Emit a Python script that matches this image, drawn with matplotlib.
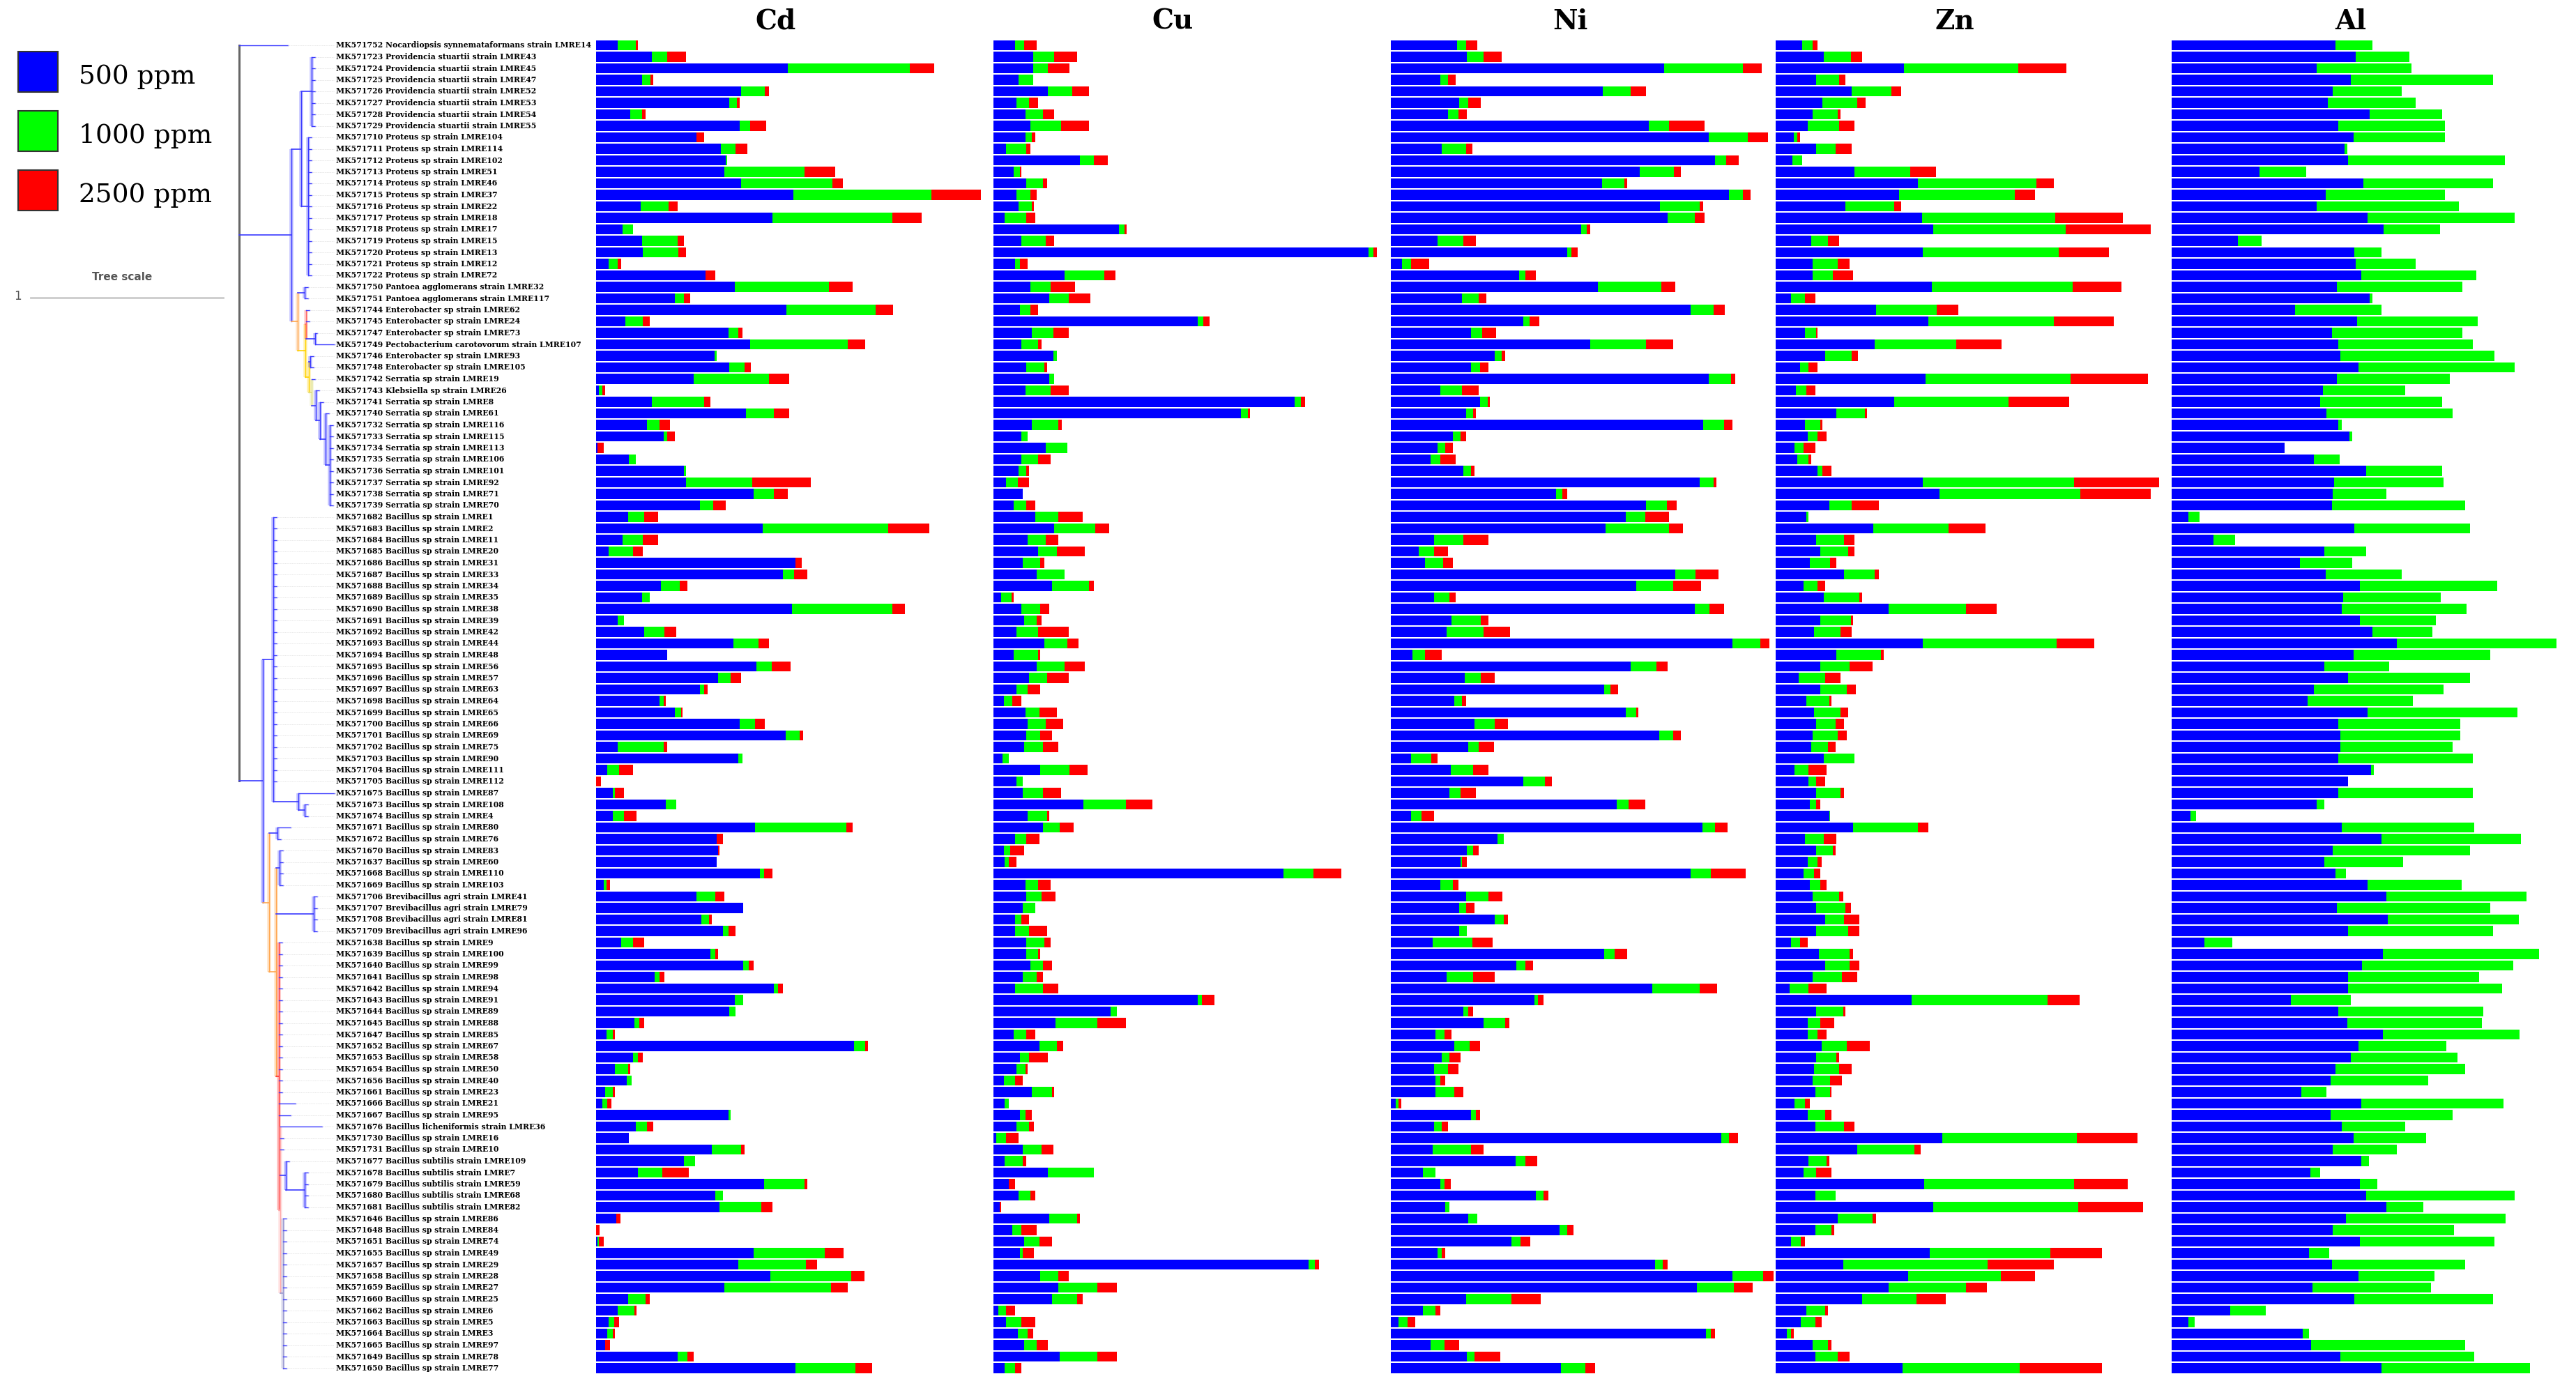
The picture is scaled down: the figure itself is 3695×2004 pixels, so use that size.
import matplotlib
matplotlib.use("Agg")
import matplotlib.pyplot as plt
from matplotlib.patches import Rectangle
import numpy as np

# strain labels, top to bottom
strains = [
    "MK571752 Nocardiopsis synnemataformans strain LMRE14",
    "MK571723 Providencia stuartii strain LMRE43",
    "MK571724 Providencia stuartii strain LMRE45",
    "MK571725 Providencia stuartii strain LMRE47",
    "MK571726 Providencia stuartii strain LMRE52",
    "MK571727 Providencia stuartii strain LMRE53",
    "MK571728 Providencia stuartii strain LMRE54",
    "MK571729 Providencia stuartii strain LMRE55",
    "MK571710 Proteus sp strain LMRE104",
    "MK571711 Proteus sp strain LMRE114",
    "MK571712 Proteus sp strain LMRE102",
    "MK571713 Proteus sp strain LMRE51",
    "MK571714 Proteus sp strain LMRE46",
    "MK571715 Proteus sp strain LMRE37",
    "MK571716 Proteus sp strain LMRE22",
    "MK571717 Proteus sp strain LMRE18",
    "MK571718 Proteus sp strain LMRE17",
    "MK571719 Proteus sp strain LMRE15",
    "MK571720 Proteus sp strain LMRE13",
    "MK571721 Proteus sp strain LMRE12",
    "MK571722 Proteus sp strain LMRE72",
    "MK571750 Pantoea agglomerans strain LMRE32",
    "MK571751 Pantoea agglomerans strain LMRE117",
    "MK571744 Enterobacter sp strain LMRE62",
    "MK571745 Enterobacter sp strain LMRE24",
    "MK571747 Enterobacter sp strain LMRE73",
    "MK571749 Pectobacterium carotovorum strain LMRE107",
    "MK571746 Enterobacter sp strain LMRE93",
    "MK571748 Enterobacter sp strain LMRE105",
    "MK571742 Serratia sp strain LMRE19",
    "MK571743 Klebsiella sp strain LMRE26",
    "MK571741 Serratia sp strain LMRE8",
    "MK571740 Serratia sp strain LMRE61",
    "MK571732 Serratia sp strain LMRE116",
    "MK571733 Serratia sp strain LMRE115",
    "MK571734 Serratia sp strain LMRE113",
    "MK571735 Serratia sp strain LMRE106",
    "MK571736 Serratia sp strain LMRE101",
    "MK571737 Serratia sp strain LMRE92",
    "MK571738 Serratia sp strain LMRE71",
    "MK571739 Serratia sp strain LMRE70",
    "MK571682 Bacillus sp strain LMRE1",
    "MK571683 Bacillus sp strain LMRE2",
    "MK571684 Bacillus sp strain LMRE11",
    "MK571685 Bacillus sp strain LMRE20",
    "MK571686 Bacillus sp strain LMRE31",
    "MK571687 Bacillus sp strain LMRE33",
    "MK571688 Bacillus sp strain LMRE34",
    "MK571689 Bacillus sp strain LMRE35",
    "MK571690 Bacillus sp strain LMRE38",
    "MK571691 Bacillus sp strain LMRE39",
    "MK571692 Bacillus sp strain LMRE42",
    "MK571693 Bacillus sp strain LMRE44",
    "MK571694 Bacillus sp strain LMRE48",
    "MK571695 Bacillus sp strain LMRE56",
    "MK571696 Bacillus sp strain LMRE57",
    "MK571697 Bacillus sp strain LMRE63",
    "MK571698 Bacillus sp strain LMRE64",
    "MK571699 Bacillus sp strain LMRE65",
    "MK571700 Bacillus sp strain LMRE66",
    "MK571701 Bacillus sp strain LMRE69",
    "MK571702 Bacillus sp strain LMRE75",
    "MK571703 Bacillus sp strain LMRE90",
    "MK571704 Bacillus sp strain LMRE111",
    "MK571705 Bacillus sp strain LMRE112",
    "MK571675 Bacillus sp strain LMRE87",
    "MK571673 Bacillus sp strain LMRE108",
    "MK571674 Bacillus sp strain LMRE4",
    "MK571671 Bacillus sp strain LMRE80",
    "MK571672 Bacillus sp strain LMRE76",
    "MK571670 Bacillus sp strain LMRE83",
    "MK571637 Bacillus sp strain LMRE60",
    "MK571668 Bacillus sp strain LMRE110",
    "MK571669 Bacillus sp strain LMRE103",
    "MK571706 Brevibacillus agri strain LMRE41",
    "MK571707 Brevibacillus agri strain LMRE79",
    "MK571708 Brevibacillus agri strain LMRE81",
    "MK571709 Brevibacillus agri strain LMRE96",
    "MK571638 Bacillus sp strain LMRE9",
    "MK571639 Bacillus sp strain LMRE100",
    "MK571640 Bacillus sp strain LMRE99",
    "MK571641 Bacillus sp strain LMRE98",
    "MK571642 Bacillus sp strain LMRE94",
    "MK571643 Bacillus sp strain LMRE91",
    "MK571644 Bacillus sp strain LMRE89",
    "MK571645 Bacillus sp strain LMRE88",
    "MK571647 Bacillus sp strain LMRE85",
    "MK571652 Bacillus sp strain LMRE67",
    "MK571653 Bacillus sp strain LMRE58",
    "MK571654 Bacillus sp strain LMRE50",
    "MK571656 Bacillus sp strain LMRE40",
    "MK571661 Bacillus sp strain LMRE23",
    "MK571666 Bacillus sp strain LMRE21",
    "MK571667 Bacillus sp strain LMRE95",
    "MK571676 Bacillus licheniformis strain LMRE36",
    "MK571730 Bacillus sp strain LMRE16",
    "MK571731 Bacillus sp strain LMRE10",
    "MK571677 Bacillus subtilis strain LMRE109",
    "MK571678 Bacillus subtilis strain LMRE7",
    "MK571679 Bacillus subtilis strain LMRE59",
    "MK571680 Bacillus subtilis strain LMRE68",
    "MK571681 Bacillus subtilis strain LMRE82",
    "MK571646 Bacillus sp strain LMRE86",
    "MK571648 Bacillus sp strain LMRE84",
    "MK571651 Bacillus sp strain LMRE74",
    "MK571655 Bacillus sp strain LMRE49",
    "MK571657 Bacillus sp strain LMRE29",
    "MK571658 Bacillus sp strain LMRE28",
    "MK571659 Bacillus sp strain LMRE27",
    "MK571660 Bacillus sp strain LMRE25",
    "MK571662 Bacillus sp strain LMRE6",
    "MK571663 Bacillus sp strain LMRE5",
    "MK571664 Bacillus sp strain LMRE3",
    "MK571665 Bacillus sp strain LMRE97",
    "MK571649 Bacillus sp strain LMRE78",
    "MK571650 Bacillus sp strain LMRE77",
]

# growth at 500 / 1000 / 2500 ppm (bar segment lengths, same row order)
cd_500 = [17,44,151,36,114,105,27,113,79,98, 102,101,114,155,35,139,21,36,37,10,
          86,109,62,150,23,104,121,93,105,77, 2,44,118,40,53,1,26,69,71,124,
          82,25,131,21,10,157,147,51,36,154, 17,38,108,56,126,96,82,50,62,113,
          149,17,112,9,0,13,55,13,125,95, 96,95,129,6,79,116,83,100,20,90,
          116,46,140,109,105,30,8,203,29,15, 24,7,5,104,31,26,91,69,33,132,
          94,97,16,0,1,124,112,137,101,25, 17,10,9,7,64,157]
cd_1000 = [14,12,96,7,19,6,9,8,0,12, 1,63,72,109,22,94,8,28,28,7,
           0,74,7,70,14,8,77,2,12,59, 3,41,22,10,3,0,5,2,52,16,
           10,13,99,16,19,0,9,15,6,79, 5,16,20,0,12,10,3,3,5,12,
           11,36,3,9,0,2,8,9,72,0, 0,0,3,2,15,0,6,4,9,4,
           4,4,3,7,5,4,5,9,4,10, 4,6,4,2,9,0,23,9,19,32,
           6,33,0,0,1,56,53,64,84,14, 13,4,4,0,8,47]
cd_2500 = [2,15,19,2,3,2,3,13,6,9, 0,24,8,39,7,23,0,5,6,3,
           8,19,5,14,5,3,14,0,5,16, 2,5,12,8,6,5,0,0,46,11,
           10,11,32,12,8,5,10,6,0,10, 0,9,8,0,15,8,3,2,1,8,
           3,3,0,11,4,7,0,10,5,5, 1,0,7,3,7,0,2,6,9,2,
           4,4,4,0,0,4,2,2,4,2, 0,2,3,0,5,0,3,0,21,2,
           0,9,3,3,4,15,9,10,13,3, 2,4,2,4,5,13]

cu_500 = [17,31,31,20,43,18,25,29,25,10, 68,16,26,18,20,9,99,22,295,17,
          56,29,44,21,161,30,22,47,26,44, 25,237,195,30,22,41,22,20,10,23,
          16,33,48,27,35,23,34,46,6,22, 24,18,40,16,34,28,18,8,25,27,
          26,24,7,37,18,23,71,27,39,17, 8,9,228,25,26,23,17,17,26,26,
          29,23,17,161,92,49,16,36,21,18, 8,30,9,21,18,2,23,9,43,12,
          20,5,44,15,24,21,248,37,51,46, 4,10,19,24,52,9]
cu_1000 = [7,17,12,11,19,10,14,24,5,16, 11,5,13,11,10,17,4,19,4,4,
           31,16,15,8,4,17,13,3,14,4, 20,5,5,21,5,17,13,6,9,0,
           10,18,32,14,15,14,22,29,8,15, 10,17,18,19,22,14,9,7,11,14,
           11,15,5,23,5,16,33,15,13,9, 5,3,24,10,12,10,5,11,14,9,
           10,11,22,3,5,33,10,14,7,7, 9,16,3,4,10,8,15,14,36,0,
           9,0,22,7,12,2,5,14,31,20, 6,12,8,10,30,8]
cu_2500 = [10,18,17,0,13,7,9,22,3,3, 11,1,3,5,2,7,2,7,3,6,
           9,19,17,6,5,12,3,0,2,0, 14,3,2,3,0,0,10,2,9,0,
           7,19,11,10,22,3,0,4,2,7, 4,24,9,2,16,17,10,7,14,14,
           9,12,0,14,0,14,21,2,11,10, 11,6,22,10,11,0,6,14,5,2,
           7,5,12,10,0,22,7,5,15,2, 6,2,0,5,4,10,9,3,0,5,
           4,1,2,12,10,9,3,8,15,4, 7,11,4,9,15,5]

ni_500 = [52,60,215,39,167,54,45,203,250,40, 255,196,166,266,212,218,150,37,139,9,
          101,163,56,236,104,63,157,82,63,250, 39,70,59,246,49,37,31,57,243,130,
          201,185,169,34,22,27,224,193,34,239, 48,44,269,17,189,58,168,50,185,66,
          211,61,16,47,104,46,178,16,245,84, 60,55,236,39,59,54,82,54,33,168,
          99,44,206,113,57,73,35,50,40,34, 35,35,4,63,34,260,33,98,25,39,
          114,43,61,133,95,37,208,269,241,59, 25,6,248,31,60,134]
ni_1000 = [7,13,62,6,22,7,8,16,31,19, 9,27,18,11,31,21,4,20,3,7,
           5,50,13,18,5,9,44,5,7,18, 17,6,6,16,6,6,8,6,11,5,
           16,15,50,23,12,14,16,29,12,12, 23,29,22,10,20,13,5,6,8,16,
           11,8,16,18,17,9,9,8,10,5, 5,1,16,10,18,5,7,6,31,8,
           7,21,37,3,4,17,7,12,6,11, 4,15,2,4,6,6,30,8,10,3,
           6,3,7,6,7,3,6,24,29,36, 10,7,4,11,6,19]
ni_2500 = [9,14,15,6,12,10,7,28,16,5, 10,5,2,6,3,8,3,10,5,14,
           8,11,6,9,8,11,21,3,7,3, 13,2,2,7,4,6,12,3,2,4,
           8,19,11,20,11,8,18,22,5,11, 6,21,7,13,9,11,6,3,2,10,
           6,12,5,12,6,12,13,10,10,0, 4,4,27,4,11,7,3,0,16,10,
           6,17,14,4,4,3,6,8,9,8, 4,7,2,3,5,7,10,9,0,5,
           4,0,0,5,8,3,4,8,15,23, 4,6,3,12,20,8]

zn_500 = [21,38,101,32,60,37,29,25,14,32, 13,62,112,97,55,115,124,28,116,29,
          29,123,12,79,120,23,78,39,19,118, 16,93,48,23,25,15,17,33,116,129,
          42,24,77,32,35,27,54,22,38,89, 35,30,116,48,35,18,35,24,30,32,
          29,28,38,15,26,32,27,42,61,23, 32,25,22,27,29,32,39,32,12,34,
          39,29,11,107,32,25,25,36,32,30, 29,31,15,25,31,131,64,26,22,117,
          31,124,49,31,12,121,53,104,89,68, 24,20,9,29,31,100]
zn_1000 = [8,21,90,18,31,27,20,25,3,15, 8,44,93,91,38,105,104,13,107,20,
           16,111,11,48,99,9,64,21,7,114, 8,90,22,12,8,7,9,4,119,111,
           18,2,59,22,22,16,24,11,28,61, 24,21,105,35,23,21,21,18,21,15,
           20,13,24,11,6,19,5,1,51,15, 13,8,8,8,21,23,15,25,7,24,
           19,23,15,107,21,10,8,20,16,20, 14,12,8,14,23,106,45,14,10,118,
           16,114,27,13,8,95,114,73,61,43, 15,11,3,12,18,92]
zn_2500 = [4,9,38,5,8,7,2,12,2,13, 0,20,14,16,6,53,67,9,39,9,
           16,38,8,17,47,1,36,5,7,61, 7,48,2,2,7,9,2,7,67,55,
           21,0,29,8,5,5,3,6,2,24, 2,9,30,2,18,12,7,2,6,7,
           7,6,0,14,7,3,3,0,8,10, 2,3,5,5,3,4,12,9,6,3,
           8,12,14,25,2,11,7,18,2,10, 9,1,4,5,8,48,5,2,12,42,
           0,51,3,2,3,41,52,27,16,23, 2,5,2,3,9,65]

al_500 = [129,145,114,141,127,123,156,131,143,136, 139,69,151,121,114,154,167,52,144,145,
          149,130,156,97,146,126,131,133,147,130, 119,117,122,131,140,89,112,153,128,127,
          126,13,144,33,120,101,121,148,135,134, 148,158,177,143,120,139,112,107,154,131,
          133,133,131,157,139,131,114,15,134,165, 127,120,129,154,169,130,170,139,26,166,
          150,139,139,94,131,138,166,147,141,129, 125,102,149,125,134,143,127,149,109,148,
          153,169,137,127,148,108,126,147,111,144, 46,13,103,110,133,165]
al_1000 = [29,42,75,112,54,69,57,84,72,2, 123,37,102,94,112,116,44,19,21,47,
           91,99,2,68,95,103,106,121,123,89, 65,96,99,3,2,0,20,60,86,42,
           105,9,91,17,33,41,60,108,77,98, 60,47,126,108,51,96,102,83,118,96,
           94,88,106,2,0,106,6,4,104,110, 108,62,8,74,110,121,103,114,22,123,
           119,103,121,47,114,106,108,69,84,102, 77,20,112,96,50,57,50,6,8,14,
           117,29,126,95,106,16,105,60,93,109, 28,5,5,121,105,117]
# no 2500 ppm growth on Al

metals = ["Cd", "Cu", "Ni", "Zn", "Al"]
growth = {
    "Cd": (cd_500, cd_1000, cd_2500),
    "Cu": (cu_500, cu_1000, cu_2500),
    "Ni": (ni_500, ni_1000, ni_2500),
    "Zn": (zn_500, zn_1000, zn_2500),
    "Al": (al_500, al_1000, None),
}
conc_labels = ["500 ppm", "1000 ppm", "2500 ppm"]
conc_colors = ["#0000ff", "#00ff00", "#ff0000"]

# tree: (node, parent, depth, colour, leaves attached directly (1-based rows))
BLUE, ORANGE, YELLOW = "#3a3aff", "#ffa64d", "#ffd200"
tree = [
    ("root", None, 0.000, "#666666", [1]),
    ("gneg", "root", 0.272, BLUE, []),
    ("provprot", "gneg", 0.322, BLUE, []),
    ("prov", "provprot", 0.377, BLUE, list(range(2, 9))),
    ("prot", "provprot", 0.359, BLUE, list(range(9, 22))),
    ("ent", "gneg", 0.304, ORANGE, []),
    ("pant", "ent", 0.341, BLUE, [22, 23]),
    ("entB", "ent", 0.344, YELLOW, []),
    ("entC", "entB", 0.348, "#ff6666", [24, 25]),
    ("pecto", "entC", 0.395, BLUE, [26, 27]),
    ("entD", "entB", 0.362, YELLOW, []),
    ("ent93", "entD", 0.368, BLUE, [28, 29]),
    ("serA", "entD", 0.377, "#dede80", [30]),
    ("serB", "serA", 0.399, BLUE, [31]),
    ("serC", "serB", 0.420, BLUE, [32]),
    ("serD", "serC", 0.449, BLUE, [33]),
    ("serE", "serD", 0.471, BLUE, list(range(34, 42))),
    ("gpos", "root", 0.123, BLUE, []),
    ("bac1", "gpos", 0.178, BLUE, list(range(42, 66))),
    ("bac87", "bac1", 0.308, BLUE, [66]),
    ("bac108", "bac87", 0.341, BLUE, [67, 68]),
    ("gposB", "gpos", 0.156, ORANGE, []),
    ("bac80", "gposB", 0.199, BLUE, [69, 70]),
    ("gposC", "gposB", 0.192, ORANGE, []),
    ("bac83", "gposC", 0.210, BLUE, [71, 72, 73, 74]),
    ("brevi", "gposC", 0.388, BLUE, [75, 76, 77, 78]),
    ("bacred", "gposC", 0.207, "#ff3333", list(range(79, 95))),
    ("bacpink", "bacred", 0.214, "#ffaaaa", [95, 96, 97]),
    ("subA", "bacpink", 0.243, BLUE, [98]),
    ("subB", "subA", 0.341, BLUE, [99, 100, 101, 102]),
    ("bacgray", "bacpink", 0.228, "#9a9ad0", list(range(103, 117))),
]
long_tips = {1: 0.254, 26: 0.405, 27: 0.496, 66: 0.496, 69: 0.268,
             93: 0.293, 94: 0.268, 95: 0.431}

W, H = 3695, 2004
fig = plt.figure(figsize=(W / 100, H / 100), dpi=100)
n = len(strains)
row_top, row_bot = 56.75, 1970.75
ax_b = 1 - row_bot / H
ax_h = (row_bot - row_top) / H

# ---- tree + labels ----
tax = fig.add_axes([330 / W, ax_b, 530 / W, ax_h])
tax.set_xlim(-13 / 276, 517 / 276)
tax.set_ylim(n - 0.5, -0.5)
tax.axis("off")

info = {name: (parent, depth, col, leaves) for name, parent, depth, col, leaves in tree}
children = {name: [] for name in info}
for name, (parent, _, _, _) in info.items():
    if parent:
        children[parent].append(name)

node_y = {}
def place(name):
    ys = [r - 1 for r in info[name][3]] + [place(c) for c in children[name]]
    node_y[name] = (min(ys) + max(ys)) / 2
    return node_y[name]
place("root")

label_x = 0.504
for name, (parent, depth, col, leaves) in info.items():
    ys = [r - 1 for r in leaves] + [node_y[c] for c in children[name]]
    lw_v = 2.2 if name == "root" else 1.0
    if name != "root":
        tax.plot([depth, depth], [min(ys), max(ys)], color=col, lw=4, alpha=0.3,
                 solid_capstyle="butt")
    tax.plot([depth, depth], [min(ys), max(ys)], color=col, lw=lw_v)
    if parent:
        pdepth = info[parent][1]
        tax.plot([pdepth, depth], [node_y[name]] * 2, color=col, lw=1.2)
    for r in leaves:
        tip = long_tips.get(r, depth + 0.018)
        tax.plot([depth, tip], [r - 1] * 2, color=BLUE, lw=1.0)
        tax.plot([tip, label_x - 0.01], [r - 1] * 2, color="#dddddd", lw=0.6,
                 ls=(0, (1, 1)))

for i, s in enumerate(strains):
    tax.text(label_x, i, s, fontsize=7.8, family="DejaVu Serif", weight="bold",
             va="center", ha="left")

# ---- stacked bar panels ----
panel_left = [855, 1425, 1995, 2547, 3115]
panel_w = 565
ypos = np.arange(n)
for metal, left in zip(metals, panel_left):
    ax = fig.add_axes([left / W, ax_b, panel_w / W, ax_h])
    base = np.zeros(n)
    for vals, col in zip(growth[metal], conc_colors):
        if vals is None:
            continue
        ax.barh(ypos, vals, left=base, height=0.88, color=col, edgecolor="none")
        base = base + np.array(vals)
    ax.set_xlim(0, 310)
    ax.set_ylim(n - 0.5, -0.5)
    ax.axis("off")
    fig.text((left + 257) / W, 1 - 31 / H, metal, ha="center", va="center",
             fontsize=28, weight="bold", family="DejaVu Serif")

# ---- legend ----
for i, (lab, col) in enumerate(zip(conc_labels, conc_colors)):
    y0 = 74 + i * 85
    fig.add_artist(Rectangle((26 / W, 1 - (y0 + 58) / H), 57 / W, 58 / H,
                             transform=fig.transFigure, facecolor=col,
                             edgecolor="#333333", lw=1.5))
    fig.text(113 / W, 1 - (y0 + 36) / H, lab, ha="left", va="center",
             fontsize=27, family="DejaVu Serif")

# ---- tree scale ----
fig.text(175 / W, 1 - 397 / H, "Tree scale", ha="center", va="center",
         fontsize=11, weight="bold", color="#555555")
fig.text(25 / W, 1 - 425 / H, "1", ha="center", va="center", fontsize=12,
         color="#555555")
fig.add_artist(plt.Line2D([44 / W, 320 / W], [1 - 427 / H] * 2,
                          transform=fig.transFigure, color="#cccccc", lw=2))

fig.savefig("out.png", dpi=100)
